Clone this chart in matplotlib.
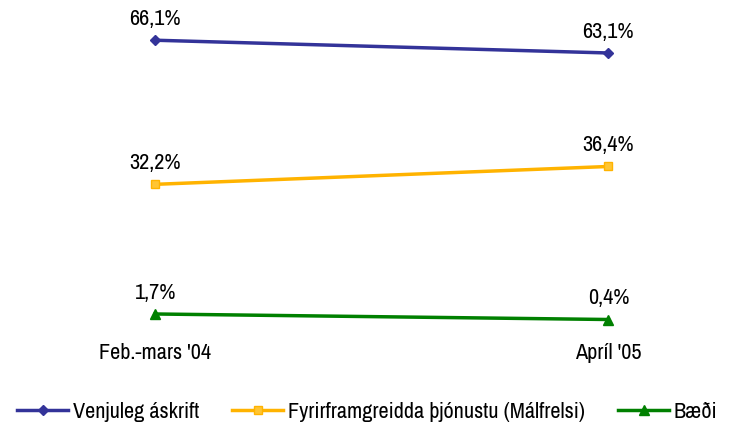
import matplotlib
matplotlib.use("Agg")
import matplotlib.pyplot as plt
from matplotlib import font_manager

names = sorted({f.name for f in font_manager.fontManager.ttflist})
narrow = [n for n in names if n == 'Liberation Sans Narrow'] or \
         [n for n in names if 'Narrow' in n or 'Condensed' in n]
fam = narrow[:1] + ['Liberation Sans', 'DejaVu Sans']
plt.rcParams['font.family'] = fam
fs = 16 if narrow else 12.5

categories = ["Feb.-mars '04", "Apríl '05"]
series_names = ["Venjuleg áskrift", "Fyrirframgreidda þjónustu (Málfrelsi)", "Bæði"]
venjuleg = [66.1, 63.1]
fyrirfram = [32.2, 36.4]
baedi = [1.7, 0.4]
labels_v = ["66,1%", "63,1%"]
labels_f = ["32,2%", "36,4%"]
labels_b = ["1,7%", "0,4%"]

fig = plt.figure(figsize=(7.3, 4.3), dpi=100)
ax = fig.add_axes([0.0575, 0.253, 0.931, 0.692])
x = list(range(len(categories)))

styles = [
    dict(color='#333399', marker='D', markersize=5, mfc='#333399', mec='#333399'),
    dict(color='#FFB300', marker='s', markersize=6, mfc='#FFC533', mec='#FFB300'),
    dict(color='#008000', marker='^', markersize=7, mfc='#008000', mec='#008000'),
]
data = [venjuleg, fyrirfram, baedi]
labs = [labels_v, labels_f, labels_b]
for name, vals, lb, st in zip(series_names, data, labs, styles):
    ax.plot(x, vals, lw=2.5, label=name, clip_on=False, **st)
    for xi, v, t in zip(x, vals, lb):
        ax.annotate(t, (xi, v), xytext=(0, 11), textcoords='offset points',
                    ha='center', va='baseline', fontsize=fs, color='black')

ax.set_xlim(-0.25, 1.25)
ax.set_ylim(0, 70)
ax.set_xticks(x)
ax.set_xticklabels(categories, fontsize=fs)
ax.tick_params(axis='x', length=0, pad=16)
ax.set_yticks([])
for s in ax.spines.values():
    s.set_visible(False)

fig.legend(loc='center', bbox_to_anchor=(0.503, 0.042), ncol=3, frameon=False,
           fontsize=fs, handlelength=2.3, handletextpad=0.2, columnspacing=1.5,
           borderpad=0, borderaxespad=0)

fig.savefig('out.png', dpi=100)
